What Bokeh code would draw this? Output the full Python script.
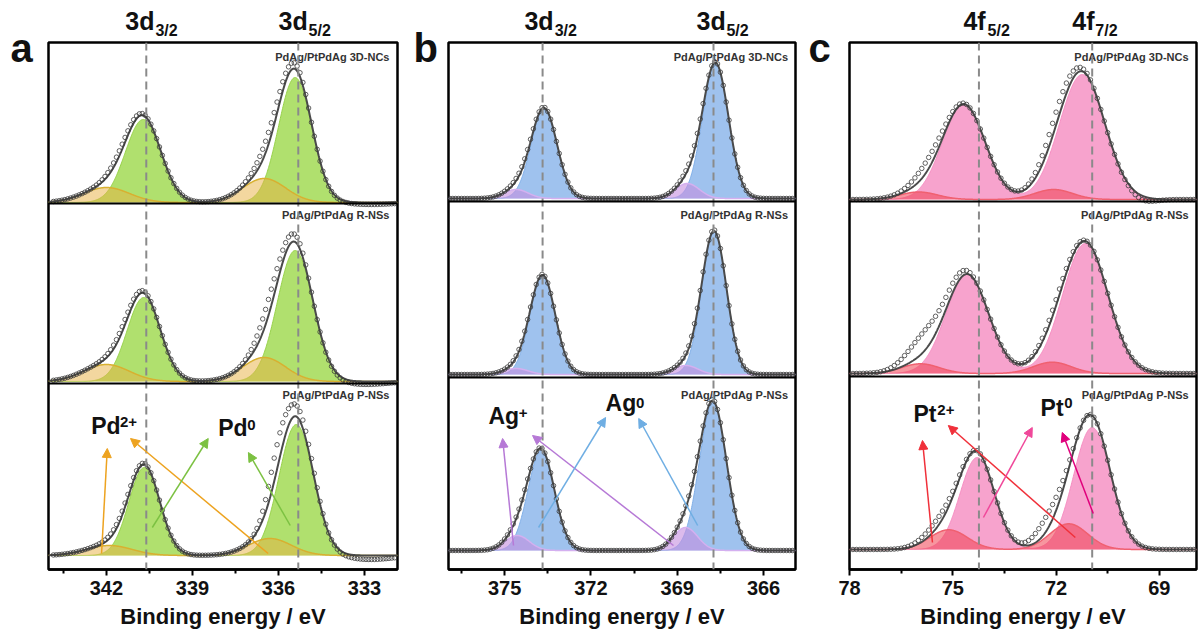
import numpy as np
from bokeh.plotting import figure
from bokeh.layouts import row, column
from bokeh.models import Range1d, Span, Label, Arrow, NormalHead, FixedTicker
from bokeh.embed import file_html
from bokeh.resources import INLINE

FONT = "Liberation Sans"
SAMPLES = ["PdAg/PtPdAg 3D-NCs", "PdAg/PtPdAg R-NSs", "PdAg/PtPdAg P-NSs"]
X_TITLE = "Binding energy / eV"

# ---------------- panel a : Pd 3d ----------------
A_XRANGE = [344.02, 331.85]
A_TICKS = [342, 339, 336, 333]
A_MINOR = [343.5, 340.5, 337.5, 334.5]
A_BASE = [367, 188, 14]          # stacking offset of each spectrum (a.u.)
A_SEP = [366, 186]
A_REFLINES = [340.61, 335.31]
A_DATA_RANGE = [343.85, 331.95]
# Pd0 doublet [3d3/2, 3d5/2] per sample: position (eV), height (a.u.), gaussian width (eV)
PD0_POS = [[340.72, 335.42], [340.70, 335.42], [340.68, 335.38]]
PD0_HGT = [[83, 125], [84, 131], [88, 131]]
PD0_WID = [[0.62, 0.58], [0.58, 0.62], [0.54, 0.60]]
# Pd2+ doublet
PD2_POS = [[342.0, 336.5], [342.0, 336.5], [341.9, 336.3]]
PD2_HGT = [[15, 24], [17, 24], [10, 17]]
PD2_WID = [[0.8, 0.75], [0.8, 0.75], [0.8, 0.75]]
# measured minus fit (shoulders seen in the raw data)
PD_RES_POS = [[341.5, 336.3, 335.4, 332.8], [341.4, 336.3, 335.4, 333.0],
              [341.5, 336.05, 335.35, 334.8, 332.8]]
PD_RES_HGT = [[5, 12, 3, -2], [5, 16, 5, -3], [4, 24, 7, 4, -4]]
PD_RES_WID = [[0.5, 0.5, 0.35, 0.8], [0.5, 0.45, 0.35, 0.8], [0.5, 0.35, 0.3, 0.3, 0.8]]

# ---------------- panel b : Ag 3d ----------------
B_XRANGE = [376.95, 364.89]
B_TICKS = [375, 372, 369, 366]
B_MINOR = [376.5, 373.5, 370.5, 367.5]
B_BASE = [371, 195, 19]
B_SEP = [368, 192]
B_REFLINES = [373.68, 367.74]
B_DATA_RANGE = [376.9, 364.95]
AG0_POS = [[373.63, 367.67], [373.68, 367.72], [373.73, 367.76]]
AG0_HGT = [[90, 135], [99, 143], [100, 148]]
AG0_WID = [[0.45, 0.45], [0.44, 0.43], [0.46, 0.47]]
AGP_POS = [[374.6, 368.65], [374.6, 368.7], [374.56, 368.71]]
AGP_HGT = [[9, 15], [6, 9], [15, 23]]
AGP_WID = [[0.42, 0.42], [0.42, 0.42], [0.42, 0.42]]
AG_RES_POS = [[374.3, 368.4], [374.3, 368.3], [374.4, 368.3]]
AG_RES_HGT = [[3, 4], [2, 3], [2, 3]]
AG_RES_WID = [[0.4, 0.4], [0.4, 0.4], [0.4, 0.4]]

# ---------------- panel c : Pt 4f ----------------
C_XRANGE = [78.0, 67.92]
C_TICKS = [78, 75, 72, 69]
C_MINOR = [76.5, 73.5, 70.5]
C_BASE = [370, 196, 20]
C_SEP = [368, 193]
C_REFLINES = [74.24, 70.95]
C_DATA_RANGE = [77.9, 68.0]
PT0_POS = [[74.68, 71.24], [74.58, 71.15], [74.29, 70.95]]
PT0_HGT = [[95, 125], [99, 130], [92, 122]]
PT0_WID = [[0.62, 0.66], [0.62, 0.66], [0.50, 0.54]]
PT2_POS = [[75.99, 72.07], [75.94, 72.11], [75.12, 71.63]]
PT2_HGT = [[7.5, 10], [9.7, 11.3], [19.7, 25.7]]
PT2_WID = [[0.55, 0.55], [0.55, 0.55], [0.55, 0.55]]
PT_RES_POS = [[75.7, 72.0, 69.5], [75.8, 74.9, 72.0], [75.4, 72.2]]
PT_RES_HGT = [[11, 13, -4], [20, 4, 6], [8, 15]]
PT_RES_WID = [[0.45, 0.45, 0.35], [0.5, 0.3, 0.4], [0.45, 0.4]]

SAMPLE_Y = [513, 355, 175]
TOTAL_H = 637
HEAD_H = 41
FRAME_H = 527
BASELINE_FIX = 0.45   # em; Bokeh draws "alphabetic" labels this much lower than asked


def peaks(x, pos, hgt, wid):
    y = np.zeros_like(x)
    for c, h, w in zip(pos, hgt, wid):
        y = y + h * np.exp(-0.5 * ((x - c) / w) ** 2)
    return y


def txt(p, x, y, text, size, color="#111111", align="left", baseline="alphabetic"):
    if baseline == "alphabetic":
        y = y + BASELINE_FIX * size
    p.add_layout(Label(x=x, y=y, text=text, text_font=FONT, text_font_size=f"{size}px",
                       text_font_style="bold", text_color=color,
                       text_align=align, text_baseline=baseline))


def blank(width, height, xr, yr, bl=0, br=0):
    f = figure(width=width, height=height, x_range=xr, y_range=yr,
               x_axis_type=None, y_axis_type=None, toolbar_location=None,
               output_backend="svg", min_border_left=bl, min_border_right=br,
               min_border_top=0, min_border_bottom=0)
    f.outline_line_color = None
    f.xgrid.visible = False
    f.ygrid.visible = False
    f.background_fill_color = "white"
    f.border_fill_color = "white"
    return f


PANELS = [
    dict(gw=40, gx=10, w=370, bl=8, br=13, xr=A_XRANGE, ticks=A_TICKS, minor=A_MINOR,
         base=A_BASE, sep=A_SEP, ref=A_REFLINES, drange=A_DATA_RANGE,
         c1=(PD0_POS, PD0_HGT, PD0_WID), c2=(PD2_POS, PD2_HGT, PD2_WID),
         res=(PD_RES_POS, PD_RES_HGT, PD_RES_WID),
         col1="#A2DA55", a1=0.85, col2="#E8B040", a2=0.5, line1="#96D048", line2="#D8B030",
         letter="a",
         titles=[("3d", 341.34, "3/2", 340.29), ("3d", 336.0, "5/2", 334.95)],
         sample_x=332.13,
         states=[("Pd", 342.53, 133, "2+", 341.53, 141), ("Pd", 338.10, 131, "0", 337.09, 138)],
         arrows=[(342.17, 16, 341.97, 121, "#EDA320"), (336.36, 16, 341.16, 131, "#EDA320"),
                 (340.40, 42, 338.45, 131, "#7CC142"), (335.59, 44, 337.05, 117, "#7CC142")]),
    dict(gw=34, gx=3, w=361, bl=4, br=10, xr=B_XRANGE, ticks=B_TICKS, minor=B_MINOR,
         base=B_BASE, sep=B_SEP, ref=B_REFLINES, drange=B_DATA_RANGE,
         c1=(AG0_POS, AG0_HGT, AG0_WID), c2=(AGP_POS, AGP_HGT, AGP_WID),
         res=(AG_RES_POS, AG_RES_HGT, AG_RES_WID),
         col1="#7FAEE8", a1=0.75, col2="#C48EE0", a2=0.6, line1="#7FAEE8", line2="#D4B0F0",
         letter="b",
         titles=[("3d", 374.31, "3/2", 373.26), ("3d", 368.33, "5/2", 367.29)],
         sample_x=365.15,
         states=[("Ag", 375.56, 143, "+", 374.51, 150), ("Ag", 371.49, 156, "0", 370.43, 160)],
         arrows=[(374.69, 24, 375.07, 131, "#B679D6"), (369.13, 24, 374.03, 134, "#B679D6"),
                 (373.82, 42, 371.49, 152, "#6FAEE3"), (368.29, 44, 370.34, 151, "#6FAEE3")]),
    dict(gw=32, gx=3, w=362, bl=12, br=3, xr=C_XRANGE, ticks=C_TICKS, minor=C_MINOR,
         base=C_BASE, sep=C_SEP, ref=C_REFLINES, drange=C_DATA_RANGE,
         c1=(PT0_POS, PT0_HGT, PT0_WID), c2=(PT2_POS, PT2_HGT, PT2_WID),
         res=(PT_RES_POS, PT_RES_HGT, PT_RES_WID),
         col1="#F58CC0", a1=0.8, col2="#F04050", a2=0.55, line1="#F58CC0", line2="#F06070",
         letter="c",
         titles=[("4f", 74.69, "5/2", 73.99), ("4f", 71.53, "7/2", 70.86)],
         sample_x=68.15,
         states=[("Pt", 76.14, 145, "2+", 75.45, 153), ("Pt", 72.45, 151, "0", 71.76, 160)],
         arrows=[(75.59, 27, 75.88, 129, "#F0303A"), (71.44, 32, 75.13, 144, "#F0303A"),
                 (74.11, 52, 72.69, 142, "#F0489A"), (70.92, 56, 71.82, 137, "#E0007C")]),
]

children = []
for cfg in PANELS:
    xr = Range1d(*cfg["xr"])
    main_h = TOTAL_H - HEAD_H

    # letter gutter (1 unit = 1 px, y measured up from the page bottom)
    g = blank(cfg["gw"], TOTAL_H, Range1d(0, cfg["gw"]), Range1d(0, TOTAL_H))
    txt(g, cfg["gx"], TOTAL_H - 65, cfg["letter"], 40)

    # header with orbital labels
    h = blank(cfg["w"], HEAD_H, xr, Range1d(0, HEAD_H), bl=cfg["bl"], br=cfg["br"])
    for main, mx, sub, sx in cfg["titles"]:
        txt(h, mx, HEAD_H - 31.5, main, 25)
        txt(h, sx, HEAD_H - 37.5, sub, 16)

    p = figure(width=cfg["w"], height=main_h, x_range=xr, y_range=Range1d(0, FRAME_H),
               y_axis_type=None, toolbar_location=None, output_backend="svg",
               min_border_left=cfg["bl"], min_border_right=cfg["br"],
               min_border_top=1, min_border_bottom=main_h - 1 - FRAME_H)
    p.xgrid.visible = False
    p.ygrid.visible = False
    p.outline_line_color = "black"
    p.outline_line_width = 2.5
    p.outline_line_alpha = 1
    p.background_fill_color = "white"
    p.border_fill_color = "white"

    ax = p.xaxis[0]
    ax.ticker = FixedTicker(ticks=cfg["ticks"], minor_ticks=cfg["minor"])
    ax.axis_label = X_TITLE
    ax.axis_label_text_font = FONT
    ax.axis_label_text_font_size = "22px"
    ax.axis_label_text_font_style = "bold"
    ax.axis_label_text_color = "#111111"
    ax.axis_label_standoff = 6
    ax.major_label_text_font = FONT
    ax.major_label_text_font_size = "20px"
    ax.major_label_text_font_style = "bold"
    ax.major_label_text_color = "#111111"
    ax.major_label_standoff = 5
    ax.axis_line_width = 2.5
    ax.axis_line_color = "black"
    ax.major_tick_line_width = 2
    ax.minor_tick_line_width = 2
    ax.major_tick_in = 0
    ax.major_tick_out = 6
    ax.minor_tick_in = 0
    ax.minor_tick_out = 4

    x_fit = np.linspace(cfg["xr"][0], cfg["xr"][1], 900)
    d0, d1 = cfg["drange"]
    x_dat = np.arange(d0, d1, -0.1)
    p1, h1, w1 = cfg["c1"]
    p2, h2, w2 = cfg["c2"]
    rp, rh, rw = cfg["res"]
    for i in range(3):
        base = cfg["base"][i]
        y1 = peaks(x_fit, p1[i], h1[i], w1[i])
        y2 = peaks(x_fit, p2[i], h2[i], w2[i])
        p.varea(x=x_fit, y1=base, y2=base + y1, fill_color=cfg["col1"], fill_alpha=cfg["a1"])
        p.line(x_fit, base + y1, line_color=cfg["line1"], line_width=1)
        p.varea(x=x_fit, y1=base, y2=base + y2, fill_color=cfg["col2"], fill_alpha=cfg["a2"])
        p.line(x_fit, base + y2, line_color=cfg["line2"], line_width=1.5)
        p.line(x_fit, base + y1 + y2, line_color="#4a4a4a", line_width=2)
        yd = (peaks(x_dat, p1[i], h1[i], w1[i]) + peaks(x_dat, p2[i], h2[i], w2[i])
              + peaks(x_dat, rp[i], rh[i], rw[i]))
        p.scatter(x_dat, base + yd, marker="circle", size=4.5, fill_alpha=0,
                  line_color="#3a3a3a", line_width=0.8)
        txt(p, cfg["sample_x"], SAMPLE_Y[i], SAMPLES[i], 11, color="#333333",
            align="right", baseline="middle")

    for loc in cfg["ref"]:
        p.add_layout(Span(location=loc, dimension="height", line_color="#8a8a8a",
                          line_width=2, line_dash="8 5"))
    for loc in cfg["sep"]:
        p.add_layout(Span(location=loc, dimension="width", line_color="black", line_width=2))

    for xs, ys, xe, ye, c in cfg["arrows"]:
        p.add_layout(Arrow(end=NormalHead(size=9, fill_color=c, line_color=c),
                           x_start=xs, y_start=ys, x_end=xe, y_end=ye,
                           line_color=c, line_width=1.5))

    for main, mx, my, sup, sx, sy in cfg["states"]:
        txt(p, mx, my, main, 23)
        txt(p, sx, sy, sup, 15)

    children.append(g)
    children.append(column(h, p))

layout = row(*children)
open("out.html", "w").write(file_html(layout, INLINE))
